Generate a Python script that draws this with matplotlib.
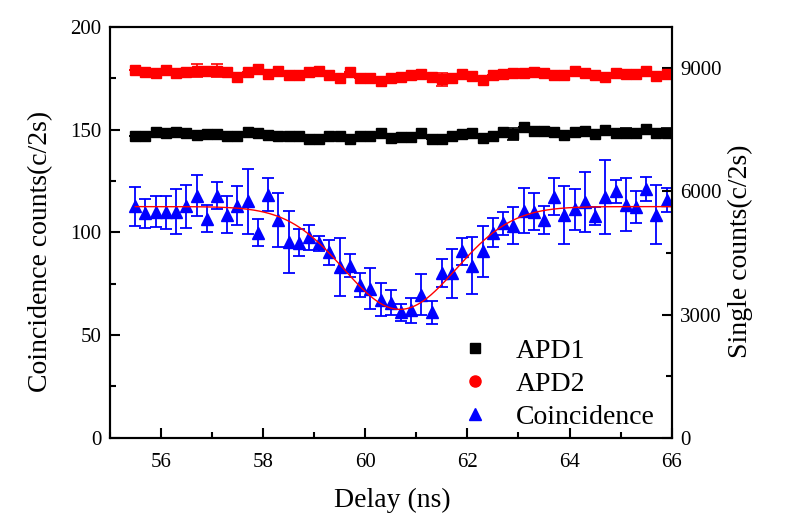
import numpy as np
import matplotlib
matplotlib.use("Agg")
import matplotlib.pyplot as plt
from matplotlib.lines import Line2D
from matplotlib.ticker import MultipleLocator

plt.rcParams['font.family'] = ['Liberation Serif', 'DejaVu Serif']

# delay positions (ns)
delay = np.round(np.arange(55.5, 66.0, 0.2), 1)

# coincidence counts (c/2s) and their errors
coinc = [112.6, 109.3, 110.1, 109.8, 110.0, 112.6, 117.8, 106.6, 117.8, 108.5,
         112.9, 115.0, 99.9, 118.2, 106.0, 95.2, 95.0, 97.5, 94.7, 90.2,
         83.0, 83.8, 74.4, 72.5, 67.2, 65.8, 61.0, 62.0, 69.6, 61.0,
         80.1, 80.1, 90.7, 83.8, 90.7, 99.9, 104.5, 103.3, 110.6, 110.1,
         106.0, 117.4, 108.5, 111.3, 114.8, 108.0, 117.1, 119.9, 113.4, 112.3,
         121.2, 108.5, 115.8]
coinc_err = [9.5, 7, 7.5, 8, 11, 10.5, 10, 6.5, 6.7, 9,
             9.5, 16, 6.5, 8, 13, 15, 6.5, 6, 3.7, 6,
             14, 5.6, 6, 10, 8, 6, 4, 6, 10, 5.4,
             6.8, 12, 6.5, 14, 12.5, 7, 5.6, 9, 11, 9,
             6.6, 9, 14, 10, 14.6, 4.3, 18, 5.6, 13, 7.6,
             5.8, 14.4, 6]

# single counts (c/2s)
apd1 = [7355, 7355, 7452, 7413, 7445, 7428, 7379, 7396, 7396, 7355,
        7355, 7452, 7428, 7372, 7340, 7355, 7355, 7282, 7267, 7355,
        7340, 7267, 7331, 7355, 7413, 7292, 7316, 7316, 7413, 7282,
        7267, 7331, 7389, 7413, 7306, 7331, 7452, 7389, 7559, 7469,
        7469, 7452, 7372, 7452, 7469, 7396, 7477, 7413, 7428, 7413,
        7511, 7413, 7428]
apd1_err = [0] * 53
apd1_err[37] = 140
apd1_err[48] = 110
apd1_err[52] = 120

apd2 = [8953, 8888, 8873, 8953, 8873, 8888, 8929, 8912, 8929, 8888,
        8790, 8888, 8970, 8856, 8912, 8832, 8839, 8888, 8912, 8815,
        8742, 8897, 8751, 8742, 8693, 8751, 8790, 8824, 8856, 8790,
        8727, 8751, 8856, 8807, 8710, 8815, 8849, 8873, 8873, 8888,
        8873, 8815, 8815, 8912, 8873, 8815, 8790, 8873, 8856, 8856,
        8929, 8807, 8856]
apd2_err = [0] * 53
apd2_err[6] = 160
apd2_err[8] = 160
apd2_err[30] = 160

# gaussian dip fit to coincidence
fit_base = 112.5
fit_depth = 50.0
fit_center = 60.68
fit_sigma = 1.10

fig = plt.figure(figsize=(7.95, 5.25), dpi=100)
ax = fig.add_axes([0.138, 0.166, 0.707, 0.783])
ax2 = ax.twinx()

ax.errorbar(delay, coinc, yerr=coinc_err, fmt='^', color='blue', ms=9,
            ecolor='blue', elinewidth=1.3, capsize=4, capthick=1.3, zorder=3)
xf = np.linspace(55.5, 66, 400)
ax.plot(xf, fit_base - fit_depth * np.exp(-(xf - fit_center) ** 2 / (2 * fit_sigma ** 2)),
        color='red', lw=1.0, zorder=4)

ax2.errorbar(delay, apd1, yerr=apd1_err, fmt='s', color='black', ms=7.5,
             ecolor='black', elinewidth=1.2, capsize=4, capthick=1.2)
ax2.errorbar(delay, apd2, yerr=apd2_err, fmt='s', color='red', ms=7.5,
             ecolor='red', elinewidth=1.2, capsize=4, capthick=1.2)

ax.set_xlim(55, 66)
ax.set_ylim(0, 200)
ax2.set_ylim(0, 10000)

ax.xaxis.set_major_locator(MultipleLocator(2))
ax.xaxis.set_minor_locator(MultipleLocator(1))
ax.yaxis.set_major_locator(MultipleLocator(50))
ax.yaxis.set_minor_locator(MultipleLocator(25))
ax2.yaxis.set_major_locator(MultipleLocator(3000))
ax2.yaxis.set_minor_locator(MultipleLocator(1500))

for a in (ax, ax2):
    for s in a.spines.values():
        s.set_linewidth(1.5)
ax.tick_params(axis='both', which='major', direction='in', length=7, width=1.5,
               labelsize=15, right=False, top=False, pad=6)
ax.tick_params(axis='x', which='major', pad=11)
ax.tick_params(axis='both', which='minor', direction='in', length=4.5, width=1.5,
               right=False, top=False)
ax2.tick_params(axis='y', which='major', direction='in', length=7, width=1.5,
                labelsize=15, pad=6)
ax2.tick_params(axis='y', which='minor', direction='in', length=4.5, width=1.5)

ax.set_xlabel('Delay (ns)', fontsize=20)
ax.set_ylabel('Coincidence counts(c/2s)', fontsize=20)
ax2.set_ylabel('Single counts(c/2s)', fontsize=20)
ax.xaxis.set_label_coords(0.502, -0.122)
ax.yaxis.set_label_coords(-0.101, 0.453)
ax2.yaxis.set_label_coords(1.10, 0.453)

handles = [Line2D([], [], ls='none', marker='s', color='black', ms=7),
           Line2D([], [], ls='none', marker='o', color='red', ms=8),
           Line2D([], [], ls='none', marker='^', color='blue', ms=8)]
ax2.legend(handles, ['APD1', 'APD2', 'Coincidence'], loc='lower right',
           frameon=False, fontsize=20, handletextpad=0.75, labelspacing=0.28,
           borderaxespad=0.1, handlelength=1.5, bbox_to_anchor=(0.995, -0.015))

fig.savefig('out.png', dpi=100)
